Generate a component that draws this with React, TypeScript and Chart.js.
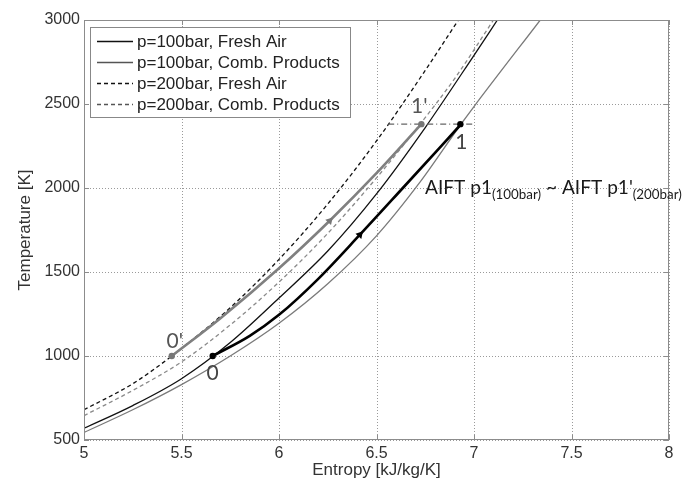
import React, { useEffect, useRef } from 'react';
import { Chart, registerables } from 'chart.js';

Chart.register(...registerables);

// ---------- data ----------
const xTicks = [5, 5.5, 6, 6.5, 7, 7.5, 8];
const yTicks = [500, 1000, 1500, 2000, 2500, 3000];

const legendLabels = [
  'p=100bar, Fresh Air',
  'p=100bar, Comb. Products',
  'p=200bar, Fresh Air',
  'p=200bar, Comb. Products',
];

// p=100bar fresh air
const sAir100 = [5.0, 5.25, 5.5, 5.75, 6.0, 6.25, 6.5, 6.75, 7.0, 7.12];
const tAir100 = [570, 705, 865, 1080, 1345, 1625, 1965, 2360, 2790, 3000];
// p=100bar combustion products
const sComb100 = [5.0, 5.25, 5.5, 5.75, 6.0, 6.25, 6.5, 6.72, 6.93, 7.0, 7.34];
const tComb100 = [545, 680, 830, 1000, 1195, 1430, 1715, 2030, 2375, 2485, 3000];
// p=200bar fresh air
const sAir200 = [5.0, 5.25, 5.45, 5.75, 6.0, 6.25, 6.5, 6.75, 6.92];
const tAir200 = [680, 835, 1000, 1288, 1575, 1905, 2280, 2700, 3000];
// p=200bar combustion products
const sComb200 = [5.0, 5.25, 5.5, 5.75, 6.0, 6.25, 6.5, 6.72, 6.9, 7.1];
const tComb200 = [645, 795, 965, 1185, 1440, 1730, 2060, 2375, 2650, 3000];

// process 0 -> 1 (100 bar)
const sProc100 = [5.66, 5.85, 6.0, 6.2, 6.415, 6.635, 6.93];
const tProc100 = [1000, 1120, 1245, 1458, 1722, 2000, 2375];
// process 0' -> 1' (200 bar)
const sProc200 = [5.45, 5.7, 6.0, 6.26, 6.5, 6.73];
const tProc200 = [1000, 1225, 1522, 1805, 2088, 2380];

// AIFT level line
const sAift = [6.56, 7.0];
const tAift = [2380, 2380];

// state points
const pointNames = ["0'", '0', "1'", '1'];
const pointS = [5.45, 5.66, 6.73, 6.93];
const pointT = [1000, 1000, 2380, 2380];

// direction arrows on process lines
const arrowS = [6.26, 6.415];
const arrowT = [1805, 1722];

// annotation text anchor (data coords)
const aiftTextS = 6.749;
const aiftTextT = 1965;

// ---------- styles ----------
const BLACK = '#111111';
const GRAY = '#7a7a7a';
const GRAY_D = '#8a8a8a';
const TICK_FONT = '"Liberation Sans", Arial, sans-serif';
const LABEL_FONT = 'Lato, "Open Sans", sans-serif';

const legendStyles = [
  { color: BLACK, dash: [] as number[], width: 1.3 },
  { color: '#555555', dash: [] as number[], width: 1.3 },
  { color: BLACK, dash: [4, 3], width: 1.3 },
  { color: '#555555', dash: [4, 3], width: 1.3 },
];
const pointColors = ['#777777', '#000000', '#777777', '#000000'];
const labelColors = ['#555555', '#444444', '#555555', '#444444'];
const labelOffsets = [
  [3, -15],
  [0, 17],
  [-2, -18],
  [1, 18],
];

const toXY = (s: number[], t: number[]) => s.map((v, i) => ({ x: v, y: t[i] }));

export default function App() {
  const ref = useRef<HTMLCanvasElement>(null);

  useEffect(() => {
    document.body.style.margin = '0';
    const canvas = ref.current!;

    const lineDs = (
      label: string,
      s: number[],
      t: number[],
      color: string,
      width: number,
      dash: number[]
    ): any => ({
      label,
      data: toXY(s, t),
      showLine: true,
      borderColor: color,
      backgroundColor: color,
      borderWidth: width,
      borderDash: dash,
      pointRadius: 0,
      pointHoverRadius: 0,
      cubicInterpolationMode: 'monotone',
      fill: false,
    });

    const datasets: any[] = [
      {
        label: 'points',
        data: toXY(pointS, pointT),
        showLine: false,
        pointRadius: 3.2,
        pointBackgroundColor: pointColors,
        pointBorderColor: pointColors,
        pointBorderWidth: 0,
      },
      {
        label: 'arrows',
        data: toXY(arrowS, arrowT),
        showLine: false,
        pointStyle: 'triangle',
        pointRadius: 4.5,
        rotation: [43, 42],
        pointBackgroundColor: ['#777777', '#000000'],
        pointBorderColor: ['#777777', '#000000'],
        pointBorderWidth: 0,
      },
      lineDs('proc100', sProc100, tProc100, '#000000', 2.6, []),
      lineDs('proc200', sProc200, tProc200, '#808080', 2.6, []),
      lineDs('aift', sAift, tAift, '#666666', 1.2, [6, 3, 1, 3]),
      lineDs(legendLabels[0], sAir100, tAir100, BLACK, 1.3, []),
      lineDs(legendLabels[1], sComb100, tComb100, GRAY, 1.3, []),
      lineDs(legendLabels[2], sAir200, tAir200, BLACK, 1.3, [4, 3]),
      lineDs(legendLabels[3], sComb200, tComb200, GRAY_D, 1.3, [4, 3]),
    ];

    const overlay = {
      id: 'overlay',
      beforeDatasetsDraw(chart: any) {
        const { ctx, chartArea: a, scales } = chart;
        ctx.save();
        ctx.strokeStyle = '#9a9a9a';
        ctx.lineWidth = 1;
        ctx.setLineDash([1, 2]);
        ctx.beginPath();
        xTicks.forEach((v) => {
          const px = Math.round(scales.x.getPixelForValue(v)) + 0.5;
          ctx.moveTo(px, a.top);
          ctx.lineTo(px, a.bottom);
        });
        yTicks.forEach((v) => {
          const py = Math.round(scales.y.getPixelForValue(v)) + 0.5;
          ctx.moveTo(a.left, py);
          ctx.lineTo(a.right, py);
        });
        ctx.stroke();
        ctx.restore();
      },
      afterDatasetsDraw(chart: any) {
        const { ctx, chartArea: a, scales } = chart;
        const xs = scales.x;
        const ys = scales.y;
        ctx.save();
        // box
        ctx.strokeStyle = '#8c8c8c';
        ctx.lineWidth = 1;
        ctx.setLineDash([]);
        ctx.strokeRect(a.left + 0.5, a.top + 0.5, a.right - a.left - 1, a.bottom - a.top - 1);
        // inner ticks
        ctx.beginPath();
        xTicks.forEach((v) => {
          const px = Math.round(xs.getPixelForValue(v)) + 0.5;
          ctx.moveTo(px, a.bottom);
          ctx.lineTo(px, a.bottom - 5);
          ctx.moveTo(px, a.top);
          ctx.lineTo(px, a.top + 5);
        });
        yTicks.forEach((v) => {
          const py = Math.round(ys.getPixelForValue(v)) + 0.5;
          ctx.moveTo(a.left, py);
          ctx.lineTo(a.left + 5, py);
          ctx.moveTo(a.right, py);
          ctx.lineTo(a.right - 5, py);
        });
        ctx.stroke();

        // legend
        const lx = a.left + 6;
        const ly = a.top + 7;
        ctx.fillStyle = '#ffffff';
        ctx.fillRect(lx + 0.5, ly + 0.5, 260, 90);
        ctx.strokeStyle = '#888888';
        ctx.strokeRect(lx + 0.5, ly + 0.5, 260, 90);
        ctx.font = `17px ${TICK_FONT}`;
        ctx.textBaseline = 'middle';
        ctx.textAlign = 'left';
        legendLabels.forEach((lab, i) => {
          const yy = ly + 14 + i * 21;
          const st = legendStyles[i];
          ctx.beginPath();
          ctx.strokeStyle = st.color;
          ctx.lineWidth = st.width;
          ctx.setLineDash(st.dash);
          ctx.moveTo(lx + 7, yy + 0.5);
          ctx.lineTo(lx + 43, yy + 0.5);
          ctx.stroke();
          ctx.setLineDash([]);
          ctx.fillStyle = '#222222';
          ctx.fillText(lab, lx + 47, yy + 1);
        });

        // point labels
        ctx.font = `21px ${LABEL_FONT}`;
        ctx.textAlign = 'center';
        ctx.textBaseline = 'middle';
        pointNames.forEach((n, i) => {
          const px = xs.getPixelForValue(pointS[i]) + labelOffsets[i][0];
          const py = ys.getPixelForValue(pointT[i]) + labelOffsets[i][1];
          ctx.fillStyle = labelColors[i];
          ctx.fillText(n, px, py);
        });

        // AIFT annotation, fitted to run to the right edge
        const parts: [string, boolean][] = [
          ['AIFT p1', false],
          ['(100bar)', true],
          [" ~ AIFT p1'", false],
          ['(200bar)', true],
        ];
        const startX = xs.getPixelForValue(aiftTextS);
        const ty = ys.getPixelForValue(aiftTextT);
        const targetW = 682 - startX;
        const measure = (big: number, small: number) =>
          parts.reduce((w, [txt, sub]) => {
            ctx.font = `${sub ? small : big}px ${LABEL_FONT}`;
            return w + ctx.measureText(txt).width;
          }, 0);
        const w0 = measure(20, 14);
        const k = targetW / w0;
        const big = 20 * k;
        const small = 14 * k;
        let tx = startX;
        ctx.textAlign = 'left';
        ctx.textBaseline = 'alphabetic';
        ctx.fillStyle = '#1a1a1a';
        parts.forEach(([txt, sub]) => {
          ctx.font = `${sub ? small : big}px ${LABEL_FONT}`;
          ctx.fillText(txt, tx, sub ? ty + 5 : ty);
          tx += ctx.measureText(txt).width;
        });
        ctx.restore();
      },
    };

    const chart = new Chart(canvas, {
      type: 'scatter',
      data: { datasets },
      plugins: [overlay],
      options: {
        animation: false,
        responsive: false,
        devicePixelRatio: 1,
        layout: { padding: { top: 20, right: 14, left: 0, bottom: 0 } },
        plugins: {
          legend: { display: false },
          tooltip: { enabled: false },
          title: { display: false },
        },
        events: [],
        scales: {
          x: {
            type: 'linear',
            min: 5,
            max: 8,
            afterBuildTicks: (scale: any) => {
              scale.ticks = xTicks.map((v) => ({ value: v }));
            },
            afterFit: (scale: any) => {
              scale.height = 43;
            },
            ticks: {
              padding: 4,
              color: '#333333',
              font: { family: TICK_FONT, size: 16 },
              callback: (v: any) => String(v),
              maxRotation: 0,
              autoSkip: false,
            },
            grid: { display: false, drawTicks: false },
            border: { display: false },
            title: {
              display: true,
              text: 'Entropy [kJ/kg/K]',
              color: '#333333',
              font: { family: TICK_FONT, size: 17 },
              padding: { top: 0, bottom: 2 },
            },
          },
          y: {
            type: 'linear',
            min: 500,
            max: 3000,
            afterBuildTicks: (scale: any) => {
              scale.ticks = yTicks.map((v) => ({ value: v }));
            },
            afterFit: (scale: any) => {
              scale.width = 84;
            },
            ticks: {
              padding: 4,
              color: '#333333',
              font: { family: TICK_FONT, size: 16 },
              callback: (v: any) => String(v),
              autoSkip: false,
            },
            grid: { display: false, drawTicks: false },
            border: { display: false },
            title: {
              display: true,
              text: 'Temperature [K]',
              color: '#333333',
              font: { family: TICK_FONT, size: 17 },
              padding: { top: 15, bottom: 0 },
            },
          },
        },
      } as any,
    });

    return () => chart.destroy();
  }, []);

  return (
    <div style={{ position: 'absolute', left: 0, top: 0, width: 683, height: 483 }}>
      <canvas ref={ref} width={683} height={483} style={{ display: 'block' }} />
    </div>
  );
}
